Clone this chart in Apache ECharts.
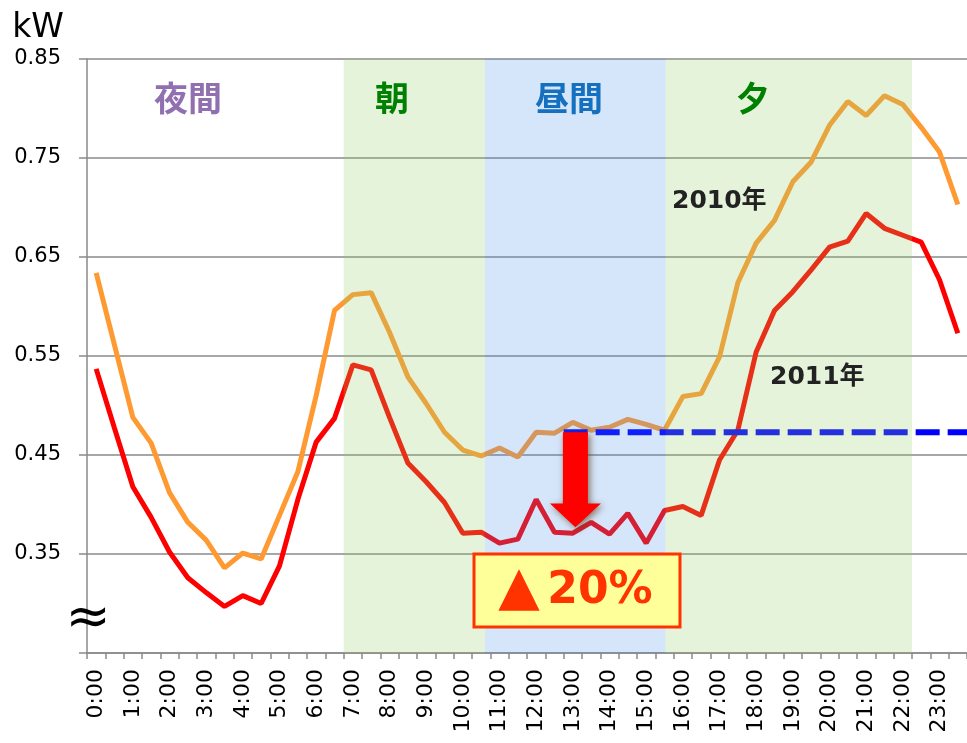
<!DOCTYPE html>
<html><head><meta charset="utf-8">
<script src="https://cdn.jsdelivr.net/npm/echarts@6/dist/echarts.min.js"></script>
<style>html,body{margin:0;padding:0;background:#fff}#c{width:967px;height:743px}</style>
</head><body><div id="c"></div><script>
// half-hourly time slots
const times = ['0:00','0:30','1:00','1:30','2:00','2:30','3:00','3:30','4:00','4:30','5:00','5:30',
  '6:00','6:30','7:00','7:30','8:00','8:30','9:00','9:30','10:00','10:30','11:00','11:30',
  '12:00','12:30','13:00','13:30','14:00','14:30','15:00','15:30','16:00','16:30','17:00','17:30',
  '18:00','18:30','19:00','19:30','20:00','20:30','21:00','21:30','22:00','22:30','23:00','23:30'];
// household load, kW
const load2010 = [0.634,0.561,0.488,0.462,0.412,0.382,0.364,0.336,0.351,0.345,0.389,0.433,
  0.510,0.596,0.612,0.614,0.574,0.529,0.502,0.473,0.455,0.449,0.457,0.448,
  0.473,0.472,0.483,0.475,0.478,0.486,0.481,0.475,0.509,0.512,0.549,0.624,
  0.664,0.687,0.726,0.746,0.783,0.807,0.793,0.813,0.804,0.781,0.756,0.703];
const load2011 = [0.537,0.477,0.418,0.387,0.352,0.326,0.311,0.297,0.308,0.300,0.338,0.405,
  0.463,0.487,0.541,0.536,0.488,0.442,0.423,0.402,0.371,0.372,0.361,0.365,
  0.405,0.372,0.371,0.382,0.370,0.391,0.361,0.394,0.398,0.389,0.445,0.475,
  0.554,0.596,0.615,0.637,0.660,0.666,0.694,0.679,0.672,0.665,0.627,0.573];
const yTickValues = [0.25,0.35,0.45,0.55,0.65,0.75,0.85];
const yLabelValues = [0.35,0.45,0.55,0.65,0.75,0.85];
// time periods (hours)
const periodStart = [7.0, 10.85, 15.78];
const periodEnd = [10.85, 15.78, 22.5];
const periodKind = [0, 1, 0];
const periodNames = ['夜間','朝','昼間','夕'];
// 2010 daytime level and reduction
const refLevel = 0.473;
const refStart = 13.0;
const reductionMark = '▲';
const reductionValue = '20%';

const bandColors = ['rgba(149,204,102,0.235)', 'rgba(64,140,235,0.22)'];
const chart = echarts.init(document.getElementById('c'));
const axisGray = '#8a8a8a';
const option = {
  animation: false,
  backgroundColor: '#fff',
  grid: {left: 87, right: 0, top: 59, bottom: 90, containLabel: false},
  xAxis: [{
    type: 'category', data: times, boundaryGap: true,
    axisLine: {show: true, lineStyle: {color: axisGray, width: 1.5}},
    axisTick: {show: true, interval: 0, length: 6, lineStyle: {color: axisGray, width: 1.5}},
    axisLabel: {interval: 1, rotate: 90, margin: 16, color: '#000', fontSize: 22, fontFamily: 'DejaVu Sans'},
    splitLine: {show: false}
  }, {
    type: 'value', min: 0, max: 24, show: false
  }],
  yAxis: [{
    type: 'value', min: 0.25, max: 0.85,
    name: 'kW', nameLocation: 'end', nameGap: 14,
    nameTextStyle: {fontSize: 33, color: '#000', fontFamily: 'DejaVu Sans', align: 'right', verticalAlign: 'bottom', padding: [0, 23, 0, 0]},
    axisLine: {show: true, lineStyle: {color: axisGray, width: 1.5}},
    axisTick: {show: true, length: 8, customValues: yTickValues, lineStyle: {color: axisGray, width: 1.5}},
    axisLabel: {customValues: yLabelValues, margin: 26, color: '#000', fontSize: 21, fontFamily: 'DejaVu Sans',
      formatter: v => v.toFixed(2)},
    splitLine: {show: true, lineStyle: {color: axisGray, width: 1.5}}
  }],
  series: [
    {name: '2010年', type: 'line', data: load2010, symbol: 'none', z: 2,
      lineStyle: {color: '#FF9A33', width: 5}, itemStyle: {color: '#FF9A33'}},
    {name: '2011年', type: 'line', data: load2011, symbol: 'none', z: 2,
      lineStyle: {color: '#FF0000', width: 5}, itemStyle: {color: '#FF0000'}},
    {name: 'ref', type: 'line', xAxisIndex: 1, yAxisIndex: 0, symbol: 'none', z: 2,
      data: [[refStart, refLevel], [24, refLevel]],
      lineStyle: {color: '#0000FF', width: 6, type: [24, 8], cap: 'butt'}},
    {name: 'bands', type: 'custom', xAxisIndex: 1, yAxisIndex: 0, z: 3, silent: true,
      data: periodStart.map((s, i) => [s, periodEnd[i], periodKind[i]]),
      encode: {x: [0, 1]},
      renderItem: function (params, api) {
        const p0 = api.coord([api.value(0), 0.85]);
        const p1 = api.coord([api.value(1), 0.25]);
        return {type: 'rect', shape: {x: p0[0], y: p0[1], width: p1[0] - p0[0], height: p1[1] - p0[1]},
          style: {fill: bandColors[api.value(2)]}};
      }}
  ]
};
chart.setOption(option);

const px = (h, v) => chart.convertToPixel({xAxisIndex: 1, yAxisIndex: 0}, [h, v]);
const arrowTop = px(13.32, refLevel), headBase = px(13.32, 0.401), arrowTip = px(13.32, 0.377);
const cx = arrowTop[0];
const labelFont = 'bold 34px "Noto Sans CJK JP"';
const yearFont = 'bold 25px "DejaVu Sans", "Noto Sans CJK JP"';
chart.setOption({graphic: [
  {type: 'text', z: 100, style: {text: periodNames[0], x: 188, y: 98, align: 'center', verticalAlign: 'middle', font: labelFont, fill: '#9070B0'}},
  {type: 'text', z: 100, style: {text: periodNames[1], x: 392, y: 98, align: 'center', verticalAlign: 'middle', font: labelFont, fill: '#008000'}},
  {type: 'text', z: 100, style: {text: periodNames[2], x: 569, y: 98, align: 'center', verticalAlign: 'middle', font: labelFont, fill: '#1670C0'}},
  {type: 'text', z: 100, style: {text: periodNames[3], x: 753, y: 98, align: 'center', verticalAlign: 'middle', font: labelFont, fill: '#008000'}},
  {type: 'text', z: 100, style: {text: '2010年', x: 672, y: 201, align: 'left', verticalAlign: 'middle', font: yearFont, fill: '#222'}},
  {type: 'text', z: 100, style: {text: '2011年', x: 770, y: 377, align: 'left', verticalAlign: 'middle', font: yearFont, fill: '#222'}},
  {type: 'polygon', z: 100, shape: {points: [
      [cx - 12.5, arrowTop[1]], [cx + 12.5, arrowTop[1]], [cx + 12.5, headBase[1]], [cx + 25.5, headBase[1]],
      [cx, arrowTip[1]], [cx - 25.5, headBase[1]], [cx - 12.5, headBase[1]]]},
    style: {fill: '#FF0000', shadowBlur: 7, shadowColor: 'rgba(90,50,10,0.65)', shadowOffsetX: 2, shadowOffsetY: 2}},
  {type: 'rect', z: 100, shape: {x: 474, y: 554, width: 206, height: 73},
    style: {fill: '#FFFF99', stroke: '#FF3300', lineWidth: 3}},
  {type: 'text', z: 101, style: {text: reductionMark, x: 519, y: 590, align: 'center', verticalAlign: 'middle', font: '54px "DejaVu Sans"', fill: '#FF3300'}},
  {type: 'text', z: 101, style: {text: reductionValue, x: 600, y: 592, align: 'center', verticalAlign: 'middle', font: 'bold 44px "DejaVu Sans"', fill: '#FF3300'}},
  {type: 'text', z: 100, style: {text: '≈', x: 88, y: 620, align: 'center', verticalAlign: 'middle', font: '54px "DejaVu Sans"', fill: '#000'}}
]});
</script></body></html>
